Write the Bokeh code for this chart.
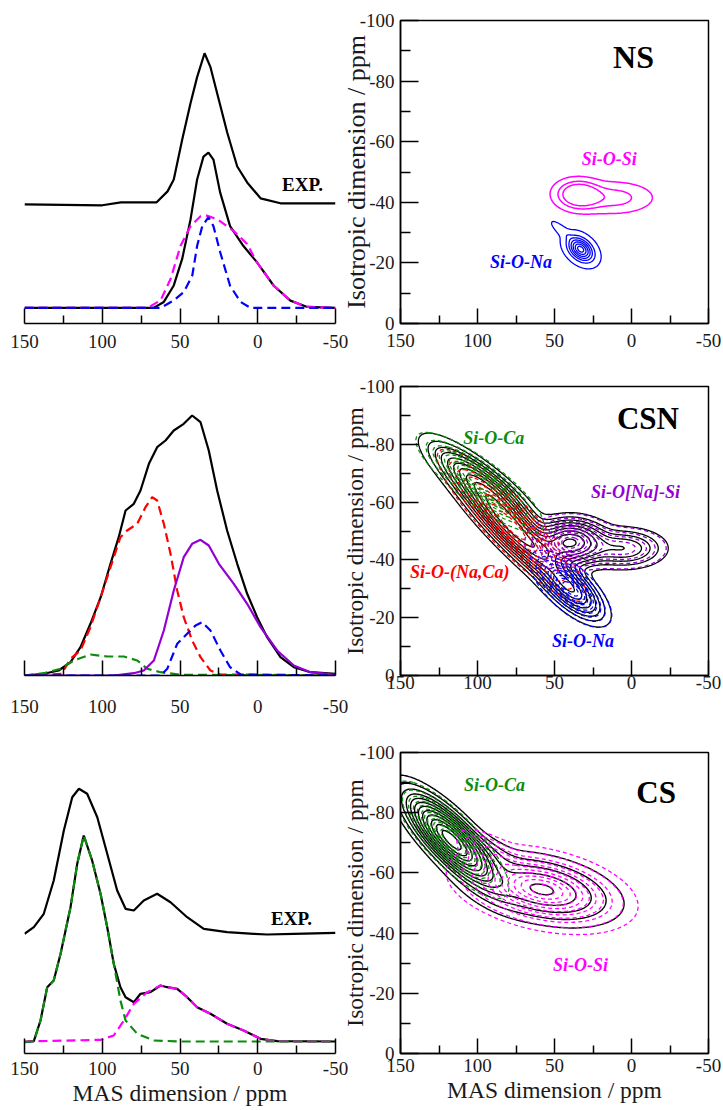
import numpy as np
from bokeh.plotting import figure
from bokeh.layouts import column, row
from bokeh.models import Range1d, FixedTicker, Label, PrintfTickFormatter
from bokeh.embed import file_html
from bokeh.resources import INLINE

FONT = "Liberation Serif"
MAGENTA = "#ff00ff"
BLUE = "#0000ff"
GREEN = "#0c8c0c"
RED = "#ff0000"
PURPLE = "#9400d3"

# ---------------- 1D spectra (MAS projections), intensity in arbitrary units ----------------
ns_exp_x = [150, 100, 88, 65, 58, 54, 48.6, 43.2, 39, 34.2, 30.4, 25, 19.6, 13.2, 6.8, -1.8, -14.6, -50]
ns_exp_y = [120, 119, 122, 122, 133, 145, 185, 222, 248, 272, 258, 225, 192, 158, 142, 126, 121, 121]
ns_calc_x = [150, 67, 60.4, 54, 48.6, 43.2, 39, 34.9, 31.7, 28.5, 24.2, 17.8, 9.2, 0.7, -10.3, -21, -31.8, -50]
ns_calc_y = [15.7, 15.7, 21.7, 38.3, 65, 105, 145, 168, 172, 165, 132, 98, 78, 62, 38, 23, 16.7, 15.7]
ns_sisi_x = [150, 71, 62.5, 56, 49.7, 43.2, 36.8, 33.6, 26, 15.4, 6.8, 0.7, -10.3, -21, -31.8, -50]
ns_sisi_y = [15.7, 15.7, 23.3, 45, 78, 98, 108, 109, 105, 93, 80, 62, 38, 23, 16.7, 15.7]
ns_sina_x = [150, 62.5, 54, 47.5, 42.1, 39, 35.7, 31.7, 28.5, 24.2, 17.8, 11, 4.7, -50]
ns_sina_y = [15.7, 15.7, 23.3, 31.7, 48.3, 78, 98, 107, 98, 72, 38, 21.7, 15.7, 15.7]

csn_tot_x = [150, 137.6, 128, 120.4, 114, 107.6, 101, 94.7, 89.4, 85, 79.7, 75.4, 70, 64.7, 59.3, 54,
             47.6, 42.2, 36.8, 31.5, 26.1, 19.7, 13.2, 6.8, 0.4, -6, -14.6, -23.2, -33.9, -50]
csn_tot_y = [0, 1.7, 5, 13.3, 28.3, 51.7, 78.3, 111.7, 138.3, 165, 171.7, 185, 211.7, 228.3, 235, 245,
             251.7, 260, 253.3, 225, 185, 145, 111.7, 81.7, 58.3, 38.3, 18.3, 8.3, 3.3, 1.7]
csn_naca_x = [150, 126, 120.4, 114, 107.6, 101, 94.7, 88.3, 84, 77.5, 72.2, 67.9, 64.7, 60.4, 56.1,
              51.8, 47.6, 42.2, 36.8, 30.4, 24, -50]
csn_naca_y = [0, 1.7, 16.7, 25, 48.3, 78.3, 108.3, 138.3, 145, 151.7, 168.3, 178.3, 175, 151.7, 121.7,
              85, 58.3, 35, 18.3, 5, 1, 0]
csn_ca_x = [150, 137.6, 126.8, 118.3, 107.6, 96.8, 86.1, 77.5, 71.1, 62.5, 49.7, -50]
csn_ca_y = [0, 2.3, 6.7, 15, 21, 19, 19, 15, 6.7, 3.3, 0.7, 0]
csn_nasi_x = [150, 92.6, 79.7, 73.3, 66.8, 60.4, 54, 47.6, 42.2, 36.8, 31.5, 25, 15.4, 6.8, -1.8,
              -12.5, -23.2, -33.9, -50]
csn_nasi_y = [0, 0, 2.3, 5, 15, 45, 85, 118.3, 131.7, 135.7, 130, 111.7, 91.7, 71.7, 48.3, 25, 10, 3.3, 0.7]
csn_na_x = [150, 62.5, 58.2, 51.8, 45.4, 40, 35.7, 30.4, 24, 17.8, 11, -50]
csn_na_y = [0, 0, 6.7, 31.7, 41.7, 50, 53.3, 45, 25, 8.3, 1, 0]

cs_exp_x = [150, 144, 137.6, 131.2, 124.7, 119.3, 115, 109.7, 103.2, 96.8, 90.4, 85, 79.7, 73.3, 64.7,
            56.1, 45.4, 34.7, 19.7, 2.5, -6, -23.2, -50]
cs_exp_y = [119.7, 126.3, 139.7, 173, 223, 256.3, 264.7, 259.7, 236.3, 199.7, 163, 144.7, 143, 153, 159.7,
            151.3, 136.3, 124.7, 121.3, 119.7, 119, 119.7, 120.7]
cs_calc_x = [150, 144, 139.7, 135.4, 131.2, 126.8, 120.4, 116.1, 111.9, 106.5, 101.1, 96.8, 92.6, 88.3,
             85, 79.7, 75.4, 69, 62.5, 58.2, 51.8, 45.4, 39, 30.4, 19.7, 9.1, -1.8, -12.5, -50]
cs_calc_y = [11.3, 12.3, 33, 66.3, 73, 99.7, 146.3, 189.7, 218, 193, 159.7, 126.3, 89.7, 66.3,
             56.3, 51.3, 59.7, 61.3, 68, 66.3, 64.7, 56.3, 46.3, 39.7, 29.7, 23, 14.7, 12.3, 12]
cs_ca_x = [150, 144, 139.7, 135.4, 131.2, 126.8, 120.4, 116.1, 111.9, 106.5, 101.1, 96.8, 92.6, 88.3,
           85, 77.5, 66.8, 49.7, -50]
cs_ca_y = [11.3, 12.3, 33, 66.3, 73, 99.7, 146.3, 189.7, 218, 193, 159.7, 126.3, 89.7, 53,
           33, 19.7, 13, 12, 12]
cs_sisi_x = [150, 101, 92.6, 86.1, 79.7, 71.1, 62.5, 58.2, 51.8, 45.4, 39, 30.4, 19.7, 9.1, -1.8, -12.5, -50]
cs_sisi_y = [12, 13.7, 18, 33, 49.7, 61.3, 68, 66.3, 64.7, 56.3, 46.3, 39.7, 29.7, 23, 14.7, 12.3, 12]

# ---------------- 2D components read from the maps ----------------
# (MAS centre, isotropic centre, long width, short width, tilt deg, relative amplitude)
ns_sisi_2d = [(34, -42.5, 8, 5.0, -3, 1.0), (12, -41.5, 14, 5.5, 0, 0.35)]
ns_sina_2d = [(33, -24.5, 6, 4.0, -41, 1.0), (45, -30.5, 6, 1.8, -41, 0.12)]
csn_ca_2d = [(98.5, -66.8, 21, 6.0, -38, 1.0)]
csn_naca_2d = [(78, -52, 28, 6.5, -47, 1.0)]
csn_na_2d = [(39.5, -30, 14, 6.0, -44, 1.0)]
csn_nasi_2d = [(40, -46, 12, 8.0, 0, 1.0), (5, -44, 14, 7.0, 0, 0.35)]
csn_weights = [0.35, 1.0, 0.5, 0.75]          # Ca, (Na,Ca), Na, [Na] in the total
cs_ca_2d = [(117, -71, 20, 6.5, -45.5, 1.0)]
cs_sisi_2d = [(58, -54.5, 25, 10.5, -12, 1.0), (92, -67, 12, 5.0, -30, 0.25)]
cs_weights = [1.0, 0.21]                        # Ca, Si in the total

lev_ns_sisi = [0.06, 0.22, 0.4]
lev_ns_sina = [0.04, 0.2, 0.35, 0.5, 0.65, 0.8, 0.93]
lev_csn_comp = [0.05, 0.12, 0.2, 0.3, 0.4, 0.5, 0.6, 0.7, 0.8, 0.9]
lev_csn_tot = [0.03, 0.07, 0.12, 0.18, 0.26, 0.35, 0.45, 0.57, 0.7, 0.85]
lev_cs_ca = [0.04, 0.1, 0.17, 0.25, 0.33, 0.42, 0.5, 0.58, 0.66, 0.74, 0.82, 0.9]
lev_cs_sisi = [0.04, 0.1, 0.18, 0.27, 0.36, 0.46, 0.56, 0.66, 0.76, 0.86, 0.95]
lev_cs_tot = [0.02, 0.05, 0.09, 0.14, 0.2, 0.27, 0.35, 0.45, 0.56, 0.68, 0.8, 0.92]

X_TICKS = [150, 100, 50, 0, -50]
X_MINOR = [125, 75, 25, -25]
Y_TICKS = [0, -20, -40, -60, -80, -100]
Y_MINOR = [-10, -30, -50, -70, -90]

GX, GY = np.meshgrid(np.linspace(-58, 162, 331), np.linspace(-102, 2, 209))
YS = 1.95


def field(comps):
    z = np.zeros_like(GX)
    for (x0, y0, sa, sb, th, a) in comps:
        t = np.radians(th)
        dx = GX - x0
        dy = (GY - y0) * YS
        u = dx * np.cos(t) + dy * np.sin(t)
        v = -dx * np.sin(t) + dy * np.cos(t)
        z += a * np.exp(-0.5 * ((u / sa) ** 2 + (v / sb) ** 2))
    return z / z.max()


def total(fields, weights):
    z = sum(w * f for w, f in zip(weights, fields))
    return z / z.max()


def style_axis(ax, ticks, minor, tin, mtin, standoff):
    ax.ticker = FixedTicker(ticks=ticks, minor_ticks=minor)
    ax.formatter = PrintfTickFormatter(format="%d")
    ax.axis_line_color = "black"
    ax.axis_line_width = 1.5
    ax.major_tick_in = tin
    ax.major_tick_out = 0
    ax.minor_tick_in = mtin
    ax.minor_tick_out = 0
    ax.major_tick_line_width = 1.5
    ax.minor_tick_line_width = 1.5
    ax.major_tick_line_color = "black"
    ax.minor_tick_line_color = "black"
    ax.major_label_text_font = FONT
    ax.major_label_text_font_size = "19px"
    ax.major_label_text_color = "#1a1a1a"
    ax.major_label_standoff = standoff


def xtitle(ax):
    ax.axis_label = "MAS dimension / ppm"
    ax.axis_label_text_font = FONT
    ax.axis_label_text_font_style = "normal"
    ax.axis_label_text_font_size = "23.5px"
    ax.axis_label_text_color = "#1a1a1a"
    ax.axis_label_standoff = 2


def left_fig(h, top, bottom, ymax, standoff):
    p = figure(width=354, height=h, x_range=Range1d(150, -50), y_range=Range1d(0, ymax),
               output_backend="svg", toolbar_location=None, y_axis_location=None,
               min_border_left=24, min_border_right=19, min_border_top=top, min_border_bottom=bottom)
    p.outline_line_color = None
    p.grid.visible = False
    style_axis(p.xaxis[0], X_TICKS, X_MINOR, 15, 8, standoff)
    return p


def right_fig(h, top, bottom, ylab_size, ylab_standoff, xstandoff):
    p = figure(width=385, height=h, x_range=Range1d(150, -50), y_range=Range1d(0, -100),
               output_backend="svg", toolbar_location=None, border_fill_color=None,
               min_border_left=58, min_border_right=15, min_border_top=top, min_border_bottom=bottom,
               margin=(0, 0, 0, -16))
    p.outline_line_color = "black"
    p.outline_line_width = 1.5
    p.grid.visible = False
    style_axis(p.xaxis[0], X_TICKS, X_MINOR, 15, 8, xstandoff)
    ya = p.yaxis[0]
    style_axis(ya, Y_TICKS, Y_MINOR, 18, 10, 6)
    ya.axis_label = "Isotropic dimension / ppm"
    ya.axis_label_text_font = FONT
    ya.axis_label_text_font_style = "normal"
    ya.axis_label_text_font_size = ylab_size
    ya.axis_label_text_color = "#1a1a1a"
    ya.axis_label_standoff = ylab_standoff
    return p


def tag(p, x, y, text, color, size="18px", style="bold italic"):
    p.add_layout(Label(x=x, y=y, text=text, text_color=color, text_font=FONT,
                       text_font_style=style, text_font_size=size,
                       text_align="center", text_baseline="middle"))


def cont(p, z, levels, color, dash="solid", width=1.3):
    p.contour(GX, GY, z, levels, line_color=color, line_width=width, line_dash=dash)


DASH1D = "9 5"
DASH2D = "4 3"

# ---------------- Row 1 : NS ----------------
l1 = left_fig(356, 20, 31, 305, 11)
l1.line(ns_exp_x, ns_exp_y, line_color="black", line_width=2.2)
l1.line(ns_calc_x, ns_calc_y, line_color="black", line_width=2.2)
l1.line(ns_sisi_x, ns_sisi_y, line_color=MAGENTA, line_width=2.2, line_dash=DASH1D)
l1.line(ns_sina_x, ns_sina_y, line_color=BLUE, line_width=2.2, line_dash=DASH1D)
tag(l1, -28.8, 140, "EXP.", "black", size="19px", style="bold")

r1 = right_fig(356, 20, 33, "26px", -14, 10)
cont(r1, field(ns_sisi_2d), lev_ns_sisi, MAGENTA, width=1.5)
cont(r1, field(ns_sina_2d), lev_ns_sina, BLUE, width=1.3)
tag(r1, 14.4, -54.4, "Si-O-Si", MAGENTA)
tag(r1, 71.8, -20.2, "Si-O-Na", BLUE)
tag(r1, -1.3, -87.9, "NS", "black", size="32px", style="bold")

# ---------------- Row 2 : CSN ----------------
l2 = left_fig(362, 30, 43, 289, 24)
l2.line(csn_tot_x, csn_tot_y, line_color="black", line_width=2.2)
l2.line(csn_naca_x, csn_naca_y, line_color=RED, line_width=2.2, line_dash=DASH1D)
l2.line(csn_ca_x, csn_ca_y, line_color=GREEN, line_width=2.2, line_dash=DASH1D)
l2.line(csn_nasi_x, csn_nasi_y, line_color=PURPLE, line_width=2.2)
l2.line(csn_na_x, csn_na_y, line_color=BLUE, line_width=2.2, line_dash=DASH1D)

r2 = right_fig(362, 30, 27, "23.5px", -11, 0)
z_ca = field(csn_ca_2d)
z_naca = field(csn_naca_2d)
z_na = field(csn_na_2d)
z_nasi = field(csn_nasi_2d)
cont(r2, total([z_ca, z_naca, z_na, z_nasi], csn_weights), lev_csn_tot, "black", width=1.3)
cont(r2, z_naca, lev_csn_comp, RED, DASH2D)
cont(r2, z_na, lev_csn_comp, BLUE, DASH2D)
cont(r2, z_nasi, lev_csn_comp, PURPLE, DASH2D)
cont(r2, z_ca, lev_csn_comp, GREEN, DASH2D)
tag(r2, 89.4, -82.3, "Si-O-Ca", GREEN)
tag(r2, -2.6, -63.4, "Si-O[Na]-Si", PURPLE)
tag(r2, 111.6, -35.8, "Si-O-(Na,Ca)", RED)
tag(r2, 31.5, -11.8, "Si-O-Na", BLUE)
tag(r2, -10.7, -88.9, "CSN", "black", size="31px", style="bold")

# ---------------- Row 3 : CS ----------------
l3 = left_fig(392, 34, 57, 301, 8)
xtitle(l3.xaxis[0])
l3.line(cs_exp_x, cs_exp_y, line_color="black", line_width=2.2)
l3.line(cs_calc_x, cs_calc_y, line_color="black", line_width=2.2)
l3.line(cs_sisi_x, cs_sisi_y, line_color=MAGENTA, line_width=2.2, line_dash=DASH1D)
l3.line(cs_ca_x, cs_ca_y, line_color=GREEN, line_width=2.2, line_dash=DASH1D)
tag(l3, -21.7, 135, "EXP.", "black", size="19px", style="bold")

r3 = right_fig(392, 34, 54, "23.5px", -11, 5)
xtitle(r3.xaxis[0])
zc_ca = field(cs_ca_2d)
zc_si = field(cs_sisi_2d)
cont(r3, total([zc_ca, zc_si], cs_weights), lev_cs_tot, "black", width=1.4)
cont(r3, zc_ca, lev_cs_ca, GREEN, DASH2D)
cont(r3, zc_si, lev_cs_sisi, MAGENTA, DASH2D)
tag(r3, 88.9, -89.1, "Si-O-Ca", GREEN)
tag(r3, 33.1, -29.4, "Si-O-Si", MAGENTA)
tag(r3, -16, -86.7, "CS", "black", size="31px", style="bold")

layout = column(row(l1, r1), row(l2, r2), row(l3, r3))
open("out.html", "w").write(file_html(layout, INLINE))
